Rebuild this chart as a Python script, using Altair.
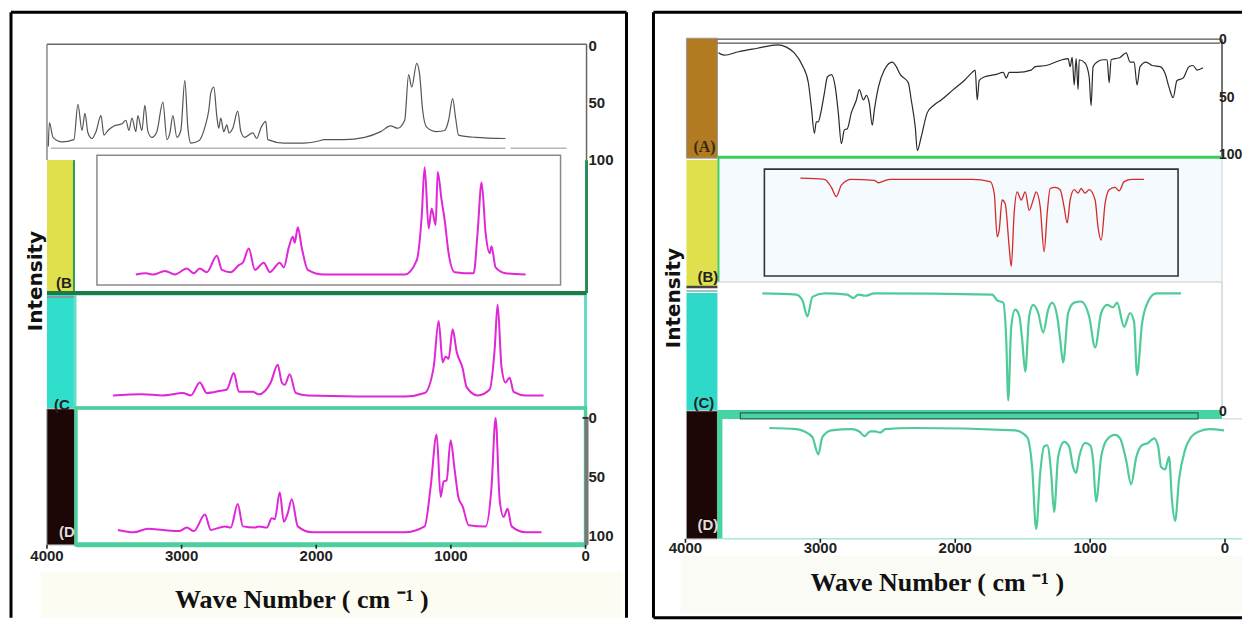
import altair as alt
import pandas as pd

# ---------------- data ----------------
# Left figure: wavenumber (cm-1) and intensity (%) of the four stacked spectra
LA_W = [3990, 3982, 3955, 3889, 3800, 3770, 3740, 3718, 3696, 3666, 3636, 3599, 3577, 3547, 3503, 3443, 3414, 3391, 3369, 3340,
        3325, 3295, 3273, 3250, 3221, 3184, 3139, 3109, 3087, 3065, 3035, 3006, 2976, 2954, 2931, 2872, 2827, 2798, 2783, 2761,
        2738, 2724, 2709, 2687, 2664, 2649, 2620, 2583, 2560, 2531, 2471, 2442, 2412, 2375, 2360, 2241, 2093, 1974, 1944, 1796,
        1640, 1521, 1447, 1395, 1343, 1314, 1291, 1254, 1232, 1210, 1180, 1106, 1046, 1017, 987, 965, 943, 816, 594]
LA_V = [88, 67, 80, 84, 82, 51, 74, 59, 76, 81, 75, 61, 78, 74, 70, 68, 65, 74, 63, 75,
        61, 74, 52, 75, 80, 75, 49, 82, 76, 61, 80, 74, 30, 71, 85, 83, 71, 56, 41, 36,
        62, 72, 63, 75, 69, 76, 72, 57, 75, 80, 76, 81, 72, 66, 82, 85, 85, 83, 82, 82,
        80, 75, 70, 72, 65, 25, 36, 15, 25, 56, 71, 75, 74, 65, 46, 63, 78, 80, 81]

LB_W = [3340, 3265, 3206, 3124, 3050, 2961, 2909, 2865, 2813, 2738, 2701, 2635, 2575, 2545, 2501, 2456, 2390, 2345, 2271, 2241,
        2204, 2174, 2160, 2137, 2108, 2063, 1944, 1343, 1254, 1217, 1195, 1165, 1143, 1113, 1098, 1069, 1046, 1017, 972, 831,
        802, 772, 742, 712, 698, 668, 594, 445]
LB_V = [97, 96, 97, 94, 97, 92, 96, 92, 95, 81, 93, 95, 89, 87, 75, 93, 87, 95, 87, 91,
        74, 65, 70, 57, 74, 93, 97, 97, 85, 48, 6, 58, 41, 55, 10, 34, 51, 79, 95, 96,
        62, 19, 62, 79, 73, 91, 96, 97]

LC_W = [3510, 3295, 3139, 2991, 2931, 2865, 2813, 2709, 2664, 2612, 2575, 2471, 2427, 2338, 2286, 2256, 2234, 2197, 2152, 2063,
        1343, 1195, 1128, 1091, 1061, 1039, 1017, 987, 957, 913, 883, 802, 712, 675, 653, 624, 594, 564, 534, 445, 312]
LC_V = [97, 96, 97, 95, 97, 86, 95, 93, 92, 78, 94, 94, 96, 86, 71, 86, 88, 79, 95, 97,
        98, 95, 73, 34, 69, 64, 66, 41, 60, 74, 90, 97, 92, 58, 20, 73, 86, 82, 94, 97, 97]

LD_W = [3473, 3354, 3250, 3139, 3020, 2961, 2909, 2827, 2783, 2679, 2635, 2583, 2545, 2456, 2427, 2367, 2330, 2308, 2271, 2241,
        2212, 2182, 2137, 2033, 1343, 1195, 1150, 1106, 1076, 1054, 1032, 1002, 972, 943, 913, 868, 742, 698, 668, 638,
        609, 579, 549, 445, 327]
LD_V = [95, 97, 94, 95, 96, 93, 96, 82, 95, 92, 93, 73, 92, 93, 92, 93, 85, 86, 63, 88,
        81, 69, 92, 97, 97, 92, 58, 14, 67, 54, 53, 19, 44, 68, 75, 91, 92, 58, 0, 69,
        84, 77, 92, 97, 97]

# Right figure
RA_W = [3755, 3711, 3607, 3467, 3318, 3252, 3193, 3133, 3089, 3067, 3044, 3030, 3015, 3000, 2970, 2948, 2918, 2889, 2867, 2844,
        2822, 2800, 2770, 2733, 2711, 2681, 2659, 2637, 2615, 2600, 2570, 2526, 2467, 2437, 2407, 2378, 2348, 2326, 2296, 2281,
        2252, 2207, 2163, 2104, 2015, 1933, 1874, 1852, 1837, 1822, 1785, 1704, 1644, 1622, 1600, 1541, 1437, 1407, 1326, 1207,
        1163, 1148, 1133, 1118, 1104, 1089, 1081, 1037, 1007, 993, 978, 948, 904, 874, 859, 844, 815, 778, 733, 704,
        674, 652, 630, 585, 541, 481, 444, 415, 385, 356, 311, 267, 237, 207, 163]
RA_V = [11, 13, 10, 7, 4, 6, 11, 22, 37, 58, 81, 71, 71, 65, 46, 32, 30, 41, 63, 90,
        78, 77, 63, 52, 43, 52, 48, 55, 74, 61, 41, 26, 19, 23, 30, 33, 37, 52, 76, 96,
        84, 63, 57, 52, 43, 35, 28, 26, 52, 35, 32, 30, 28, 33, 28, 28, 26, 23, 22, 17,
        16, 23, 15, 39, 16, 43, 17, 20, 32, 57, 23, 19, 17, 17, 37, 17, 16, 15, 11, 19,
        19, 39, 23, 19, 22, 23, 29, 41, 50, 35, 33, 23, 22, 26, 24]

RB_W = [3148, 2970, 2918, 2881, 2844, 2770, 2600, 2570, 2541, 2481, 1874, 1741, 1711, 1689, 1674, 1652, 1630, 1600, 1585, 1563,
        1541, 1511, 1481, 1452, 1422, 1400, 1370, 1341, 1318, 1296, 1259, 1222, 1193, 1170, 1148, 1118, 1089, 1067, 1037, 1007,
        963, 941, 918, 889, 859, 815, 785, 748, 689, 600]
RB_V = [7, 8, 15, 23, 13, 8, 9, 11, 10, 8, 8, 10, 20, 58, 52, 26, 29, 67, 84, 37,
        19, 26, 19, 35, 26, 19, 32, 71, 37, 16, 15, 17, 32, 46, 26, 17, 20, 16, 20, 17,
        26, 50, 61, 29, 17, 15, 18, 10, 8, 8]

RC_W = [3430, 3178, 3133, 3096, 3059, 2970, 2800, 2755, 2718, 2667, 2600, 1726, 1689, 1644, 1622, 1607, 1585, 1556, 1526, 1504,
        1481, 1452, 1422, 1385, 1348, 1311, 1281, 1244, 1222, 1200, 1163, 1118, 1067, 1007, 963, 918, 874, 830, 800, 748,
        704, 674, 652, 615, 570, 511, 326]
RC_V = [3, 4, 9, 23, 6, 3, 4, 7, 4, 5, 3, 4, 9, 11, 43, 96, 32, 17, 22, 43,
        71, 23, 13, 20, 37, 17, 11, 23, 43, 63, 20, 11, 10, 23, 50, 20, 13, 15, 11, 32,
        20, 28, 74, 29, 10, 3, 3]

RD_W = [3378, 3178, 3118, 3059, 3015, 2985, 2918, 2770, 2711, 2674, 2630, 2593, 2556, 2518, 2311, 1556, 1467, 1430, 1400, 1370,
        1341, 1318, 1289, 1267, 1237, 1193, 1156, 1126, 1104, 1081, 1037, 1000, 978, 956, 918, 874, 815, 778, 733, 696,
        659, 615, 570, 526, 496, 474, 444, 415, 393, 370, 341, 296, 252, 193, 111, 7]
RD_V = [14, 15, 17, 22, 37, 22, 16, 15, 17, 21, 17, 17, 18, 15, 14, 16, 22, 48, 102, 53,
        30, 29, 53, 87, 39, 26, 30, 48, 53, 39, 27, 29, 42, 78, 39, 24, 20, 23, 42, 63,
        40, 29, 27, 23, 30, 48, 50, 39, 77, 95, 59, 33, 22, 17, 15, 16]

X_TICKS = [4000, 3000, 2000, 1000, 0]
SIDE_TICKS = [0, 50, 100]
X_TITLE = "Wave Number ( cm \u207b\u00b9 )"
Y_TITLE = "Intensity"

# ---------------- layout helpers (pixel geometry of the figure) ----------------
PLOT_TOP = 44


def lx(px):
    return 4000 - (px - 46) / 0.13475


def rx(px):
    return (1225 - px) / 0.135


def yy(py):
    return py - PLOT_TOP


ROWS_L = {"A": (46, 1.14), "B": (160, 1.18), "C": (281, 1.18), "D": (418, 1.18)}
ROWS_R = {"A": (40, 1.15), "B": (170, 1.15), "C": (290, 1.15), "D": (412, 1.15)}

MAG = "#e026d6"
GRN = "#4fcb98"
SANS = "Liberation Sans"


def spectra_df(specs, rows):
    recs = []
    for key, W, V, row, color, sw in specs:
        top, k = rows[row]
        for w, v in zip(W, V):
            recs.append(dict(w=w, Y=yy(top + v * k), key=key, color=color, sw=sw))
    return pd.DataFrame(recs)


def rect_df(items, xc):
    return pd.DataFrame([dict(x1=xc(a), x2=xc(b), y1=yy(c), y2=yy(d), fill=f, stroke=s, sw=w)
                         for a, b, c, d, f, s, w in items])


def rule_df(items, xc):
    return pd.DataFrame([dict(x1=xc(a), x2=xc(b), y1=yy(c), y2=yy(d), color=col, sw=w)
                         for a, b, c, d, col, w in items])


def text_df(items, xc):
    return pd.DataFrame([dict(x=xc(a), y=yy(b), text=t, color=col) for a, b, t, col in items])


def panel(xc, width, height, specs, rows, side_rows, side_x, side_size, rects, rules, row_labels, serif,
          ylab_pos, axis_y, label_y, title_pos):
    xs = alt.Scale(domain=[4000, 0], nice=False, zero=False)
    ys = alt.Scale(domain=[0, height], reverse=True, nice=False, zero=False)

    def X(f):
        return alt.X(f, scale=xs, axis=None)

    def Y(f):
        return alt.Y(f, scale=ys, axis=None)

    rect_layer = alt.Chart(rect_df(rects, xc)).mark_rect().encode(
        x=X("x1:Q"), x2="x2:Q", y=Y("y1:Q"), y2="y2:Q",
        fill=alt.Fill("fill:N", scale=None), stroke=alt.Stroke("stroke:N", scale=None),
        strokeWidth=alt.StrokeWidth("sw:Q", scale=None))
    rule_layer = alt.Chart(rule_df(rules, xc)).mark_rule().encode(
        x=X("x1:Q"), x2="x2:Q", y=Y("y1:Q"), y2="y2:Q",
        color=alt.Color("color:N", scale=None), strokeWidth=alt.StrokeWidth("sw:Q", scale=None))
    line_layer = alt.Chart(spectra_df(specs, rows)).mark_line(
        interpolate="monotone", strokeJoin="round").encode(
        x=X("w:Q"), y=Y("Y:Q"),
        color=alt.Color("color:N", scale=None), detail="key:N",
        strokeWidth=alt.StrokeWidth("sw:Q", scale=None))

    # x axis: ticks and labels from X_TICKS
    tick_df = pd.DataFrame({"w": X_TICKS, "t": [str(v) for v in X_TICKS],
                            "y1": yy(axis_y), "y2": yy(axis_y + 4), "ly": yy(label_y)})
    tick_layer = alt.Chart(tick_df).mark_rule(color="#222222", strokeWidth=1.6).encode(
        x=X("w:Q"), y=Y("y1:Q"), y2="y2:Q")
    tick_text = alt.Chart(tick_df).mark_text(
        font=SANS, fontWeight="bold", fontSize=15, align="center", baseline="middle", color="#222222").encode(
        x=X("w:Q"), y=Y("ly:Q"), text="t:N")

    # side intensity scale (0 / 50 / 100) from SIDE_TICKS
    side = []
    for r, ticks in side_rows:
        top, k = rows[r]
        for t in ticks:
            side.append(dict(x=xc(side_x), y=yy(top + t * k), text=str(t), color="#222222"))
    side_layer = alt.Chart(pd.DataFrame(side)).mark_text(
        font=SANS, fontWeight="bold", fontSize=side_size, align="left", baseline="middle").encode(
        x=X("x:Q"), y=Y("y:Q"), text="text:N", color=alt.Color("color:N", scale=None))
    label_layer = alt.Chart(text_df(row_labels, xc)).mark_text(
        font=SANS, fontWeight="bold", fontSize=15, align="left", baseline="middle").encode(
        x=X("x:Q"), y=Y("y:Q"), text="text:N", color=alt.Color("color:N", scale=None))

    layers = [rect_layer, rule_layer, line_layer, tick_layer, tick_text, side_layer, label_layer]
    if serif:
        layers.append(alt.Chart(text_df(serif, xc)).mark_text(
            font="Liberation Serif", fontWeight="bold", fontSize=16, align="left", baseline="middle").encode(
            x=X("x:Q"), y=Y("y:Q"), text="text:N", color=alt.Color("color:N", scale=None)))
    layers.append(alt.Chart(text_df([(ylab_pos[0], ylab_pos[1], Y_TITLE, "#111111")], xc)).mark_text(
        font="DejaVu Sans", fontWeight="bold", fontSize=20, angle=270, align="center", baseline="middle").encode(
        x=X("x:Q"), y=Y("y:Q"), text="text:N", color=alt.Color("color:N", scale=None)))
    layers.append(alt.Chart(text_df([(title_pos[0], title_pos[1], X_TITLE, "#111111")], xc)).mark_text(
        font="Liberation Serif", fontWeight="bold", fontSize=26, align="center", baseline="middle").encode(
        x=X("x:Q"), y=Y("y:Q"), text="text:N", color=alt.Color("color:N", scale=None)))
    return alt.layer(*layers).properties(width=width, height=height)


T = "transparent"
RIGHT_EDGE = 1242

left_rects = [
    (40, 622, 572, 618, "#fcfcf2", T, 0),
    (46, 73, 160, 293, "#e0e04c", T, 0),
    (46, 73, 295, 408, "#2fdfcb", T, 0),
    (46, 74, 409, 545, "#1d0606", "#888888", 1),
    (96, 560, 155, 285, T, "#8a8a8a", 1.5),
    (74, 585, 294, 408, T, "#62dcc6", 3),
    (75, 585, 408, 545, T, "#4ccf9c", 3.5),
]
left_rules = [
    (46, 586, 44, 44, "#666666", 1.5),
    (46, 46, 44, 160, "#888888", 1.5),
    (586, 586, 44, 160, "#666666", 1.5),
    (50, 505, 148, 148, "#b5b5b5", 1.5),
    (510, 566, 148, 148, "#b5b5b5", 1.5),
    (73, 73, 160, 293, "#2a9a55", 2),
    (586, 586, 160, 293, "#2e8b57", 3),
    (46, 586, 293, 293, "#1f7a48", 4),
    (46, 73, 297, 297, "#8a9a9a", 2),
    (75, 585, 545, 545, "#4ccf9c", 5),
    (586, 586, 418, 545, "#777777", 4),
    (582, 588, 418, 418, "#333333", 2),
    (10, 626, 12, 12, "#000000", 3),
    (10, 10, 12, 618, "#000000", 3),
    (626, 626, 12, 618, "#000000", 3),
]
left_row_labels = [(55, 283, "(B", "#222222"), (53, 405, "(C", "#222222"), (58, 532, "(D", "#dddddd")]

right_rects = [
    (680, RIGHT_EDGE, 556, 614, "#fbfbf6", T, 0),
    (717, 1222, 158, 282, "#f4fafd", T, 0),
    (722, RIGHT_EDGE, 419, 539, "#ffffff", T, 0),
    (686, 717, 38, 158, "#b27b22", "#999999", 1),
    (686, 717, 160, 286, "#e0e04c", T, 0),
    (686, 717, 293, 410, "#2fd9c9", T, 0),
    (686, 717, 411, 539, "#1d0606", "#999999", 1),
    (717, 1222, 410, 419, "#46d5a2", T, 0),
    (740, 1198, 413, 419, T, "#2f5f50", 1.2),
    (717, 722, 410, 539, "#46d5a2", T, 0),
    (764, 1178, 169, 276, T, "#333333", 1.6),
]
right_rules = [
    (717, 1220, 39, 39, "#555555", 1.3),
    (717, 1220, 43, 43, "#555555", 1.3),
    (1222, 1222, 39, 157, "#444444", 1.5),
    (717, 1222, 157, 157, "#3ccc5a", 3),
    (718, 718, 157, 282, "#3ccc5a", 2),
    (1222, 1222, 157, 282, "#d0d0d0", 1),
    (686, 717, 287, 287, "#444444", 2.5),
    (686, 717, 291, 291, "#88aaaa", 1.5),
    (717, 1222, 282, 282, "#cccccc", 1),
    (1222, 1222, 282, 410, "#c8c8c8", 1.2),
    (1222, RIGHT_EDGE, 419, 419, "#cccccc", 1),
    (722, RIGHT_EDGE, 539, 539, "#a8e8cc", 1.5),
    (653, RIGHT_EDGE, 12, 12, "#000000", 3),
    (653, 653, 12, 618, "#000000", 3),
    (653, RIGHT_EDGE, 618, 618, "#000000", 3),
]
right_row_labels = [(697, 277, "(B)", "#222222"), (693, 403, "(C)", "#222222"), (697, 525, "(D)", "#dddddd")]
right_serif = [(693, 147, "(A)", "#3b2a12")]

left_specs = [
    ("LA", LA_W, LA_V, "A", "#555555", 1.2),
    ("LB", LB_W, LB_V, "B", MAG, 2),
    ("LC", LC_W, LC_V, "C", MAG, 2),
    ("LD", LD_W, LD_V, "D", MAG, 2),
]
right_specs = [
    ("RA", RA_W, RA_V, "A", "#2a2a2a", 1.2),
    ("RB", RB_W, RB_V, "B", "#d42a2a", 1.3),
    ("RC", RC_W, RC_V, "C", GRN, 2.2),
    ("RD", RD_W, RD_V, "D", GRN, 2.2),
]

# left plot area: x 46..585, y 44..545 ; right plot area: x 685..1225, y 44..539
left = panel(lx, 539, 501, left_specs, ROWS_L, [("A", SIDE_TICKS), ("D", SIDE_TICKS)], 588, 15,
             left_rects, left_rules, left_row_labels, [], (35, 281), 545, 556, (301, 600))
right = panel(rx, 540, 495, right_specs, ROWS_R, [("A", SIDE_TICKS), ("D", [0])], 1219, 14,
              right_rects, right_rules, right_row_labels, right_serif, (674, 298), 539, 548, (937, 583))

chart = alt.hconcat(left, right, spacing=100, bounds="flush").properties(
    padding={"left": 1, "top": 2, "right": 0, "bottom": 0}
).configure_view(stroke="transparent")

chart.save("out.html", embed_options={"renderer": "svg", "actions": False})
